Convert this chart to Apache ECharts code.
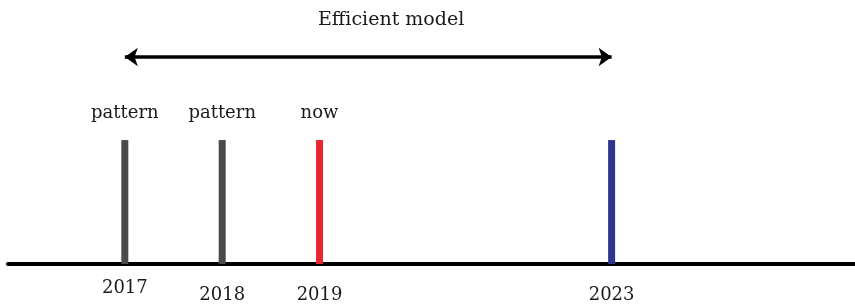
<!DOCTYPE html>
<html>
<head>
<meta charset="utf-8">
<script src="https://cdn.jsdelivr.net/npm/echarts@6/dist/echarts.min.js"></script>
<style>
  html, body { margin: 0; padding: 0; background: #fff; }
  #chart { width: 855px; height: 306px; }
</style>
</head>
<body>
<div id="chart"></div>
<script>
// timeline data: slot = position along the line (2019 -> 2023 spans 3 slots)
var years = ['2017', '2018', '2019', '2023']
var slots = [0, 1, 2, 5]
var markers = ['pattern', 'pattern', 'now', '']
var heights = [1, 1, 1, 1]
var spanFrom = 0
var spanTo = 5
var spanLevel = 1.67
var spanTitle = 'Efficient model'

var barColors = ['#4a4a4a', '#4a4a4a', '#e8262e', '#2b3590']
var font = 'DejaVu Serif'

var myChart = echarts.init(document.getElementById('chart'))

var option = {
  animation: false,
  title: {
    text: spanTitle,
    left: 313,
    top: 6,
    textStyle: {
      fontFamily: font,
      fontSize: 19,
      fontWeight: 'normal',
      color: '#1a1a1a'
    }
  },
  grid: {
    left: 8,
    right: 0,
    top: 0,
    bottom: 42
  },
  xAxis: {
    type: 'value',
    min: -1.2,
    max: 7.5,
    splitLine: { show: false },
    axisTick: { show: false },
    axisLine: {
      show: true,
      onZero: false,
      lineStyle: { color: '#000', width: 4 }
    },
    axisLabel: {
      customValues: slots,
      margin: 15,
      formatter: function (val) {
        var i = slots.indexOf(val)
        if (i < 0) return ''
        return (i === 0 ? '{hi|' : '{lo|') + years[i] + '}'
      },
      rich: {
        hi: { fontFamily: font, fontSize: 18, color: '#1a1a1a' },
        lo: { fontFamily: font, fontSize: 18, color: '#1a1a1a', padding: [7, 0, 0, 0] }
      }
    }
  },
  yAxis: {
    type: 'value',
    min: 0,
    max: 2.13,
    show: false
  },
  series: [
    {
      type: 'bar',
      barWidth: 7,
      data: slots.map(function (s, i) {
        return {
          value: [s, heights[i]],
          itemStyle: { color: barColors[i] },
          label: { show: markers[i] !== '', formatter: markers[i] }
        }
      }),
      label: {
        position: 'top',
        distance: 18,
        fontFamily: font,
        fontSize: 18,
        color: '#1a1a1a'
      },
      markLine: {
        silent: true,
        symbol: ['arrow', 'arrow'],
        symbolSize: [14, 13],
        label: { show: false },
        lineStyle: { color: '#000', width: 3.5, type: 'solid' },
        data: [
          [
            { coord: [spanFrom, spanLevel] },
            { coord: [spanTo, spanLevel] }
          ]
        ]
      }
    }
  ]
}

option && myChart.setOption(option)
</script>
</body>
</html>
